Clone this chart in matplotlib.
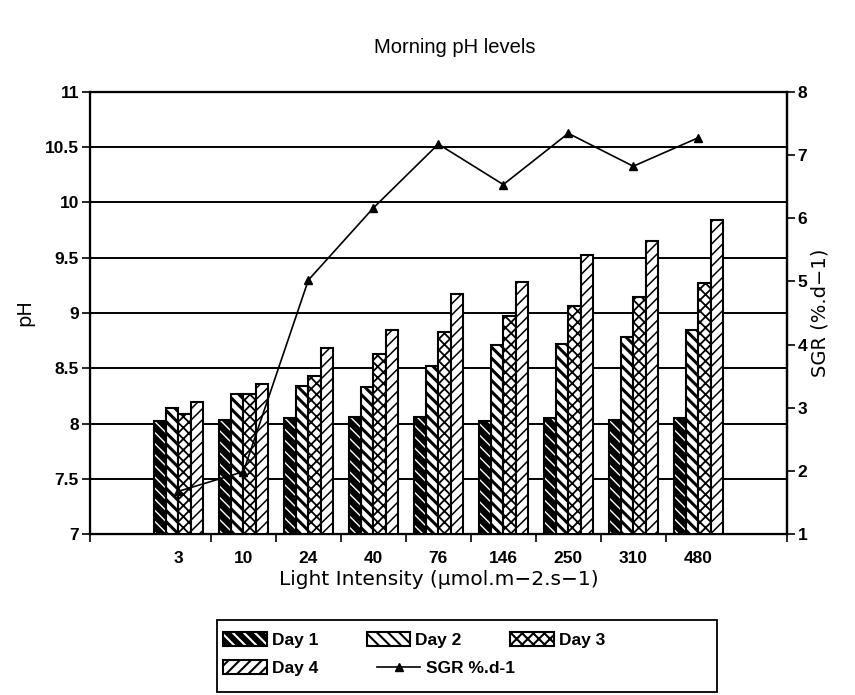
import matplotlib
matplotlib.use('Agg')
import matplotlib.pyplot as plt
from matplotlib.patches import Rectangle
from matplotlib.legend_handler import HandlerTuple
import numpy as np

# valeurs
light = ['3', '10', '24', '40', '76', '146', '250', '310', '480']
day1 = [8.02, 8.03, 8.05, 8.06, 8.06, 8.02, 8.05, 8.03, 8.05]
day2 = [8.14, 8.27, 8.34, 8.33, 8.52, 8.71, 8.72, 8.78, 8.85]
day3 = [8.09, 8.27, 8.43, 8.63, 8.83, 8.97, 9.06, 9.14, 9.27]
day4 = [8.20, 8.36, 8.68, 8.85, 9.17, 9.28, 9.52, 9.65, 9.84]
sgr = [1.68, 1.99, 5.02, 6.16, 7.17, 6.53, 7.34, 6.82, 7.27]

plt.rcParams['hatch.linewidth'] = 1.5
plt.rcParams['font.family'] = 'DejaVu Sans'


def set_hlw(container, lw):
    for p in container:
        if hasattr(p, 'set_hatch_linewidth'):
            p.set_hatch_linewidth(lw)


fig = plt.figure(figsize=(8.55, 6.95), dpi=100)
ax = fig.add_axes([0.1053, 0.2312, 0.8147, 0.6370])

x = np.arange(len(light))
w = 0.19

# Day 1 : fond noir, rayures blanches
b1_fill = ax.bar(x - 1.5 * w, np.array(day1) - 7, bottom=7, width=w,
                 facecolor='black', edgecolor='white', hatch='\\\\\\', linewidth=0, zorder=3)
set_hlw(b1_fill, 1.0)
b1 = ax.bar(x - 1.5 * w, np.array(day1) - 7, bottom=7, width=w,
            facecolor='none', edgecolor='black', linewidth=1.5, zorder=4)
b2 = ax.bar(x - 0.5 * w, np.array(day2) - 7, bottom=7, width=w, facecolor='white',
            edgecolor='black', hatch='\\\\\\', linewidth=1.5, zorder=3)
set_hlw(b2, 2.2)
b3 = ax.bar(x + 0.5 * w, np.array(day3) - 7, bottom=7, width=w, facecolor='white',
            edgecolor='black', hatch='xxx', linewidth=1.5, zorder=3)
set_hlw(b3, 1.3)
b4 = ax.bar(x + 1.5 * w, np.array(day4) - 7, bottom=7, width=w, facecolor='white',
            edgecolor='black', hatch='///', linewidth=1.5, zorder=3)
set_hlw(b4, 1.1)

ax.set_ylim(7, 11)
ax.set_xlim(-1.36, 9.36)
ax.set_yticks(np.arange(7, 11.01, 0.5))
ax.set_yticklabels(['7', '7.5', '8', '8.5', '9', '9.5', '10', '10.5', '11'])
for yv in np.arange(7.5, 11.0, 0.5):
    ax.axhline(yv, color='black', lw=1.4, zorder=1)

ax.set_xticks(x)
ax.set_xticklabels(light)
ax.set_xticks(list(np.arange(0.5, 7.6, 1.0)) + [-1.36, 9.36], minor=True)
ax.tick_params(axis='x', which='major', length=0, pad=12)
ax.tick_params(axis='x', which='minor', length=6, width=1.2, direction='out')
ax.tick_params(axis='y', length=6, width=1.2, direction='out', pad=2)
for lbl in ax.get_xticklabels() + ax.get_yticklabels():
    lbl.set_family('Liberation Sans')
    lbl.set_fontweight('bold')
    lbl.set_fontsize(12.5)

for s in ax.spines.values():
    s.set_linewidth(1.6)

ax.set_xlabel('Light Intensity (\u00b5mol.m\u22122.s\u22121)', fontsize=14.5, labelpad=3)
ax.set_ylabel('pH', fontsize=14, labelpad=8)

ax2 = ax.twinx()
ax2.set_ylim(1, 8)
ax2.set_yticks(range(1, 9))
ax2.tick_params(axis='y', length=6, width=1.2, direction='out', pad=2)
for lbl in ax2.get_yticklabels():
    lbl.set_family('Liberation Sans')
    lbl.set_fontweight('bold')
    lbl.set_fontsize(12.5)
ax2.spines['right'].set_linewidth(1.6)
line, = ax2.plot(x, sgr, color='black', lw=1.2, marker='^', markersize=6, zorder=5)
ax2.set_ylabel('SGR (%.d\u22121)', fontsize=14, labelpad=2)

fig.text(0.532, 0.931, 'Morning pH levels', ha='center', va='center',
         fontsize=14.5, family='Liberation Sans')

# cadre de la légende
fig.patches.append(Rectangle((0.2538, 0.004), 0.5848, 0.1036, transform=fig.transFigure,
                             facecolor='none', edgecolor='black', linewidth=1.3))
prop = {'family': 'Liberation Sans', 'weight': 'bold', 'size': 12.5}
kw = dict(loc='center left', frameon=False, handlelength=2.5, handleheight=0.9,
          handletextpad=0.3, borderpad=0, borderaxespad=0, prop=prop,
          handler_map={tuple: HandlerTuple(ndivide=1, pad=0)})
leg1 = fig.legend([(b1_fill[0], b1[0]), b2[0], b3[0]], ['Day 1', 'Day 2', 'Day 3'],
                  ncol=3, columnspacing=2.8, bbox_to_anchor=(0.261, 0.0791), **kw)
leg2 = fig.legend([b4[0], line], ['Day 4', 'SGR %.d-1'],
                  ncol=2, columnspacing=3.4, bbox_to_anchor=(0.261, 0.0388), **kw)

fig.savefig('out.png', dpi=100)
